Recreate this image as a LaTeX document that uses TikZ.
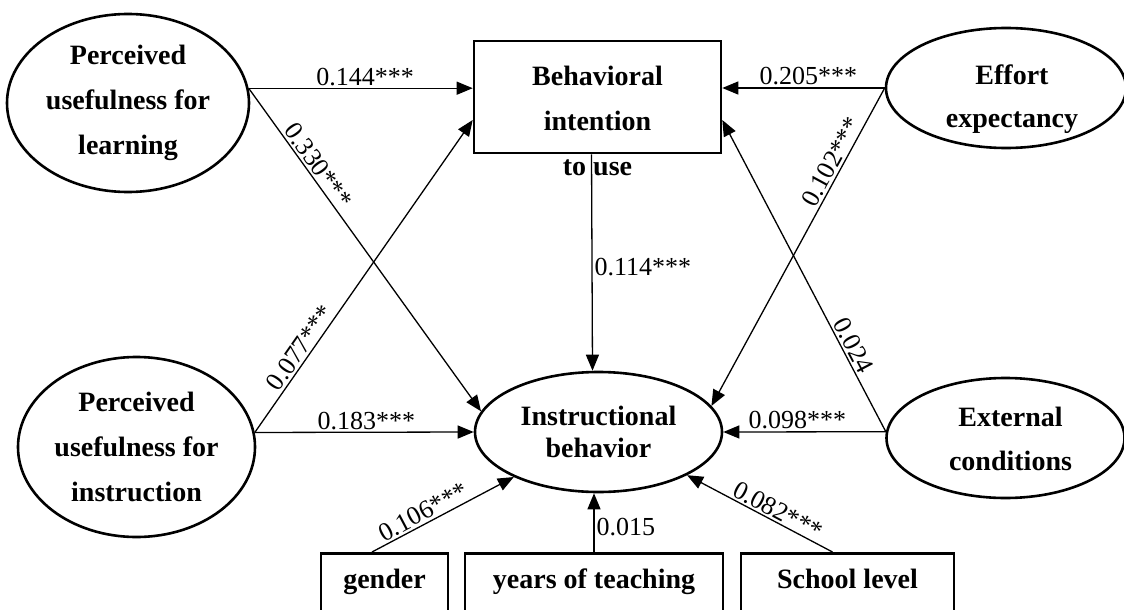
\documentclass[tikz,border=0pt]{standalone}
\usepackage{fontspec}
\setmainfont{Liberation Serif}
\usetikzlibrary{shapes.geometric,arrows.meta}

\begin{document}
\begin{tikzpicture}[x=1pt,y=-1pt,
	latent/.style={draw,ellipse,line width=2.6pt,inner sep=0pt,align=center,font=\bfseries\fontsize{28}{45}\selectfont},
	observed/.style={draw,rectangle,line width=2.6pt,inner sep=0pt,font=\bfseries\fontsize{28}{34}\selectfont},
	coef/.style={line width=1.3pt,-{Triangle[length=16pt,width=13pt]}},
	est/.style={font=\fontsize{26}{30}\selectfont,inner sep=2pt}]
	\useasboundingbox (0,0) rectangle (1124,610);
	% latent variables
	\node[latent,minimum width=242pt,minimum height=178pt] (pul) at (128,103) {Perceived\\usefulness for\\learning};
	\node[latent,minimum width=237pt,minimum height=180pt] (pui) at (136.5,447) {Perceived\\usefulness for\\instruction};
	\node[latent,minimum width=247pt,minimum height=120pt,font=\bfseries\fontsize{28}{32}\selectfont] (ib) at (598.5,432) {Instructional\\behavior};
	\node[latent,minimum width=240pt,minimum height=120pt,
		label={[font=\bfseries\fontsize{28}{43}\selectfont,align=center,xshift=6pt,yshift=-11pt]center:Effort\\expectancy}] (eff) at (1006,88) {};
	\node[latent,minimum width=238pt,minimum height=120pt,
		label={[font=\bfseries\fontsize{28}{44}\selectfont,align=center,xshift=5pt,yshift=-1pt]center:External\\conditions}] (ext) at (1005.5,438) {};
	% observed variables
	\node[observed,minimum width=247pt,minimum height=112pt] (bi) at (597.5,97) {};
	\node[font=\bfseries\fontsize{28}{45}\selectfont,align=center] (bitext) at (597.5,121) {Behavioral\\intention\\to use};
	\node[observed,anchor=north,minimum width=127pt,text height=35pt,text depth=40pt] (gen) at (384.5,552) {gender};
	\node[observed,anchor=north,minimum width=258pt,text height=35pt,text depth=40pt] (yrs) at (594,552) {years of teaching};
	\node[observed,anchor=north,minimum width=213pt,text height=35pt,text depth=40pt] (sch) at (847.5,552) {School level};
	% paths
	\draw[coef] (pul.7) -- (bi.west |- pul.7) node[est,pos=.52,above] {0.144***};
	\draw[coef] (pul.7) -- (ib.170) node[est,pos=.26,sloped,above] {0.330***};
	\draw[coef] (pui.7) -- ([yshift=-23pt]bi.west) node[est,pos=.25,sloped,above] {0.077***};
	\draw[coef] (pui.7) -- (ib.west) node[est,pos=.51,above] {0.183***};
	\draw[coef] (eff.west) -- (bi.east |- eff.west) node[est,pos=.47,above] {0.205***};
	\draw[coef] (eff.west) -- (ib.13) node[est,pos=.25,sloped,above] {0.102***};
	\draw[coef] (ext.177) -- ([yshift=-23pt]bi.east) node[est,pos=.26,sloped,above] {0.024};
	\draw[coef] (ext.177) -- (ib.east) node[est,pos=.545,above] {0.098***};
	\draw[coef] ([xshift=-6pt]bi.south) -- ([xshift=-6pt]ib.north) node[est,pos=.52,right] {0.114***};
	\draw[coef] ([xshift=-12.5pt]gen.north) -- (ib.208) node[est,pos=.4,sloped,above] {0.106***};
	\draw[coef] (yrs.north) -- (yrs.north |- ib.south) node[est,pos=.42,right] {0.015};
	\draw[coef] ([xshift=-15pt]sch.north) -- (ib.334) node[est,pos=.41,sloped,above] {0.082***};
\end{tikzpicture}
\end{document}
